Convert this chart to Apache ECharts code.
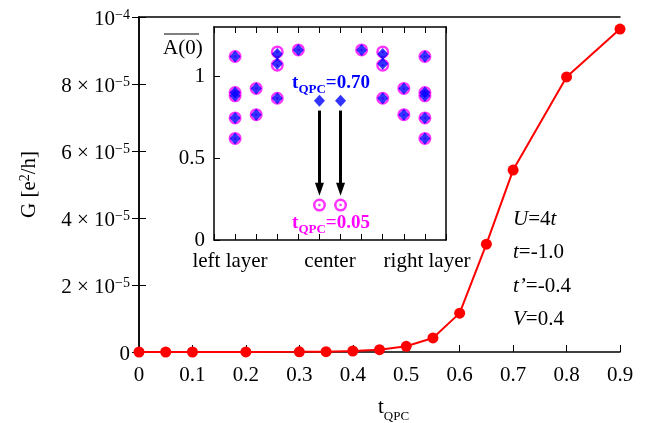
<!DOCTYPE html>
<html><head><meta charset="utf-8">
<script src="https://cdn.jsdelivr.net/npm/echarts@6/dist/echarts.min.js"></script>
<style>html,body{margin:0;padding:0;background:#fff}#c{width:652px;height:423px}</style>
</head><body><div id="c"></div>
<script>
// ---- main curve ----
const tQPC = [0, 0.05, 0.1, 0.2, 0.3, 0.35, 0.4, 0.45, 0.5, 0.55, 0.6, 0.65, 0.7, 0.8, 0.9];
const G = [0, 0, 0, 0.03e-6, 0.05e-6, 0.1e-6, 0.3e-6, 0.7e-6, 1.7e-6, 4.2e-6, 11.6e-6, 32.2e-6, 54.3e-6, 82.1e-6, 96.4e-6];
const xTickLabels = ['0', '0.1', '0.2', '0.3', '0.4', '0.5', '0.6', '0.7', '0.8', '0.9'];
const yTickBase = ['0', '2 × 10', '4 × 10', '6 × 10', '8 × 10', '10'];
const yTickExp = ['', '-5', '-5', '-5', '-5', '-4'];
// ---- inset ----
const insetSites = [1,1,1,1,1, 2,2, 3,3,3, 4, 5, 6, 7, 8,8,8, 9,9, 10,10,10,10,10];
const A070 = [1.12,0.90,0.88,0.745,0.62, 0.925,0.765, 1.135,1.075,0.865, 1.16, 0.85, 0.85, 1.16, 1.135,1.075,0.865, 0.925,0.765, 1.12,0.90,0.88,0.745,0.62];
const A005 = [1.12,0.90,0.88,0.745,0.62, 0.925,0.765, 1.148,1.067,0.865, 1.16, 0.213, 0.213, 1.16, 1.148,1.067,0.865, 0.925,0.765, 1.12,0.90,0.88,0.745,0.62];
const insetYTicks = ['0', '0.5', '1'];
const arrowSites = [5, 6];
const arrowFrom = 0.79;
const arrowTo = 0.31;

const FONT = 'Liberation Serif';
const FS = 21;
const chart = echarts.init(document.getElementById('c'), null, {renderer: 'canvas'});

const supRich = {
  b: {fontFamily: FONT, fontSize: FS, color: '#000', lineHeight: 23},
  sup: {fontFamily: FONT, fontSize: 14, color: '#000', verticalAlign: 'top', lineHeight: 14}
};
const sup = s => s.replace('-', '−');

const option = {
  animation: false,
  backgroundColor: '#fff',
  grid: [
    {left: 139, top: 17, width: 481, height: 335, outerBoundsMode: 'none', containLabel: false},
    {left: 214, top: 27, width: 232, height: 213, outerBoundsMode: 'none', containLabel: false, z: 10}
  ],
  xAxis: [
    {
      gridIndex: 0, type: 'value', min: 0, max: 0.9, interval: 0.1, position: 'bottom',
      axisLine: {lineStyle: {color: '#000', width: 1.5}},
      axisTick: {inside: true, length: 7, lineStyle: {color: '#000', width: 1}},
      splitLine: {show: false},
      axisLabel: {
        margin: 13, fontFamily: FONT, fontSize: FS, color: '#000',
        formatter: v => xTickLabels[Math.round(v / 0.1)]
      },
      name: '{t|t}{s|QPC}', nameLocation: 'middle', nameGap: 45,
      nameTextStyle: {
        padding: [0, 0, 0, 28],
        rich: {
          t: {fontFamily: FONT, fontSize: FS, color: '#000', lineHeight: 26, verticalAlign: 'top'},
          s: {fontFamily: FONT, fontSize: 13, color: '#000', lineHeight: 13, verticalAlign: 'bottom'}
        }
      }
    },
    {
      gridIndex: 0, type: 'value', min: 0, max: 0.9, position: 'top',
      axisLine: {onZero: false, lineStyle: {color: '#000', width: 1.5}},
      axisTick: {show: false}, axisLabel: {show: false}, splitLine: {show: false}
    },
    {
      gridIndex: 1, type: 'value', min: 0, max: 11, interval: 1, position: 'bottom',
      axisLine: {onZero: false, lineStyle: {color: '#000', width: 1.5}},
      axisTick: {inside: true, length: 6, lineStyle: {color: '#000', width: 1}},
      axisLabel: {show: false}, splitLine: {show: false}
    },
    {
      gridIndex: 1, type: 'value', min: 0, max: 11, interval: 1, position: 'top',
      axisLine: {onZero: false, lineStyle: {color: '#000', width: 1.5}},
      axisTick: {inside: true, length: 6, lineStyle: {color: '#000', width: 1}},
      axisLabel: {show: false}, splitLine: {show: false}
    }
  ],
  yAxis: [
    {
      gridIndex: 0, type: 'value', min: 0, max: 1e-4, interval: 2e-5, position: 'left',
      axisLine: {show: true, lineStyle: {color: '#000', width: 1.5}},
      axisTick: {show: true, inside: true, length: 7, lineStyle: {color: '#000', width: 1}},
      splitLine: {show: false},
      axisLabel: {
        margin: 9, padding: [5, 0, 0, 0],
        formatter: v => {
          const i = Math.round(v / 2e-5);
          return yTickExp[i] ? '{b|' + yTickBase[i] + '}{sup|' + sup(yTickExp[i]) + '}' : '{b|' + yTickBase[i] + '}';
        },
        rich: supRich
      },
      name: '{b|G [e}{sup|2}{b|/h]}', nameLocation: 'middle', nameGap: 98, nameRotate: 90,
      nameTextStyle: {rich: supRich}
    },
    {
      gridIndex: 0, type: 'value', min: 0, max: 1e-4, interval: 2e-5, position: 'right',
      axisLine: {show: true, lineStyle: {color: '#000', width: 1.5}},
      axisTick: {show: true, inside: true, length: 7, lineStyle: {color: '#000', width: 1}},
      axisLabel: {show: false}, splitLine: {show: false}
    },
    {
      gridIndex: 1, type: 'value', min: 0, max: 1.3, interval: 0.5, position: 'left',
      axisLine: {show: true, onZero: false, lineStyle: {color: '#000', width: 1.5}},
      axisTick: {show: true, inside: true, length: 6, lineStyle: {color: '#000', width: 1}},
      splitLine: {show: false},
      axisLabel: {
        margin: 9, fontFamily: FONT, fontSize: FS, color: '#000', showMaxLabel: false,
        formatter: v => insetYTicks[Math.round(v / 0.5)] || ''
      }
    },
    {
      gridIndex: 1, type: 'value', min: 0, max: 1.3, position: 'right',
      axisLine: {show: true, onZero: false, lineStyle: {color: '#000', width: 1.5}},
      axisTick: {show: false}, axisLabel: {show: false}, splitLine: {show: false}
    }
  ],
  series: [
    {
      type: 'line', xAxisIndex: 0, yAxisIndex: 0,
      data: tQPC.map((x, i) => [x, G[i]]),
      symbol: 'circle', symbolSize: 11,
      lineStyle: {color: '#ff0000', width: 2},
      itemStyle: {color: '#ff0000'},
      clip: false, z: 3
    },
    {
      type: 'scatter', xAxisIndex: 2, yAxisIndex: 2, z: 11,
      data: insetSites.map((s, i) => [s, A005[i]]),
      symbol: 'circle', symbolSize: 10.5,
      itemStyle: {color: '#fff', borderColor: '#ff00ff', borderWidth: 2.5}
    },
    {
      type: 'scatter', xAxisIndex: 2, yAxisIndex: 2, z: 12,
      data: insetSites.map((s, i) => [s, A005[i]]),
      symbol: 'circle', symbolSize: 2.5,
      itemStyle: {color: '#ff00ff'}
    },
    {
      type: 'scatter', xAxisIndex: 2, yAxisIndex: 2, z: 13,
      data: insetSites.map((s, i) => [s, A070[i]]),
      symbol: 'diamond', symbolSize: [11, 12],
      itemStyle: {color: '#0000ff'},
      markLine: {
        silent: true, animation: false, z: 30,
        symbol: ['none', 'triangle'], symbolSize: [9, 13],
        label: {show: false},
        lineStyle: {color: '#000', width: 3, type: 'solid'},
        data: arrowSites.map(s => [{coord: [s, arrowFrom]}, {coord: [s, arrowTo]}])
      }
    }
  ],
  graphic: [
    {type: 'text', z: 100, x: 230, y: 261, style: {text: 'left layer', font: FS + 'px "Liberation Serif"', fill: '#000', align: 'center', verticalAlign: 'middle'}},
    {type: 'text', z: 100, x: 330, y: 261, style: {text: 'center', font: FS + 'px "Liberation Serif"', fill: '#000', align: 'center', verticalAlign: 'middle'}},
    {type: 'text', z: 100, x: 427, y: 261, style: {text: 'right layer', font: FS + 'px "Liberation Serif"', fill: '#000', align: 'center', verticalAlign: 'middle'}},
    {type: 'text', z: 100, x: 163, y: 48, style: {text: 'A(0)', font: FS + 'px "Liberation Serif"', fill: '#000', align: 'left', verticalAlign: 'middle'}},
    {type: 'line', z: 100, shape: {x1: 164, y1: 34, x2: 199, y2: 34}, style: {stroke: '#000', lineWidth: 1.2}},
    {type: 'text', z: 100, x: 331, y: 85, style: {
      text: '{t|t}{s|QPC}{t|=0.70}', align: 'center', verticalAlign: 'middle',
      rich: {
        t: {fontFamily: FONT, fontWeight: 'bold', fontSize: 19, fill: '#0000ff', lineHeight: 22, verticalAlign: 'top'},
        s: {fontFamily: FONT, fontWeight: 'bold', fontSize: 13, fill: '#0000ff', lineHeight: 13, verticalAlign: 'bottom'}
      }}},
    {type: 'text', z: 100, x: 331, y: 225, style: {
      text: '{t|t}{s|QPC}{t|=0.05}', align: 'center', verticalAlign: 'middle',
      rich: {
        t: {fontFamily: FONT, fontWeight: 'bold', fontSize: 19, fill: '#ff00ff', lineHeight: 22, verticalAlign: 'top'},
        s: {fontFamily: FONT, fontWeight: 'bold', fontSize: 13, fill: '#ff00ff', lineHeight: 13, verticalAlign: 'bottom'}
      }}},
    {type: 'text', z: 100, x: 513, y: 219, style: {text: '{i|U}{n|=4}{i|t}', verticalAlign: 'middle', rich: {i: {fontFamily: FONT, fontStyle: 'italic', fontSize: FS, fill: '#000'}, n: {fontFamily: FONT, fontSize: FS, fill: '#000'}}}},
    {type: 'text', z: 100, x: 513, y: 252, style: {text: '{i|t}{n|=-1.0}', verticalAlign: 'middle', rich: {i: {fontFamily: FONT, fontStyle: 'italic', fontSize: FS, fill: '#000'}, n: {fontFamily: FONT, fontSize: FS, fill: '#000'}}}},
    {type: 'text', z: 100, x: 513, y: 286, style: {text: '{i|t’}{n|=-0.4}', verticalAlign: 'middle', rich: {i: {fontFamily: FONT, fontStyle: 'italic', fontSize: FS, fill: '#000'}, n: {fontFamily: FONT, fontSize: FS, fill: '#000'}}}},
    {type: 'text', z: 100, x: 513, y: 319, style: {text: '{i|V}{n|=0.4}', verticalAlign: 'middle', rich: {i: {fontFamily: FONT, fontStyle: 'italic', fontSize: FS, fill: '#000'}, n: {fontFamily: FONT, fontSize: FS, fill: '#000'}}}}
  ]
};
chart.setOption(option);
</script>
</body></html>
